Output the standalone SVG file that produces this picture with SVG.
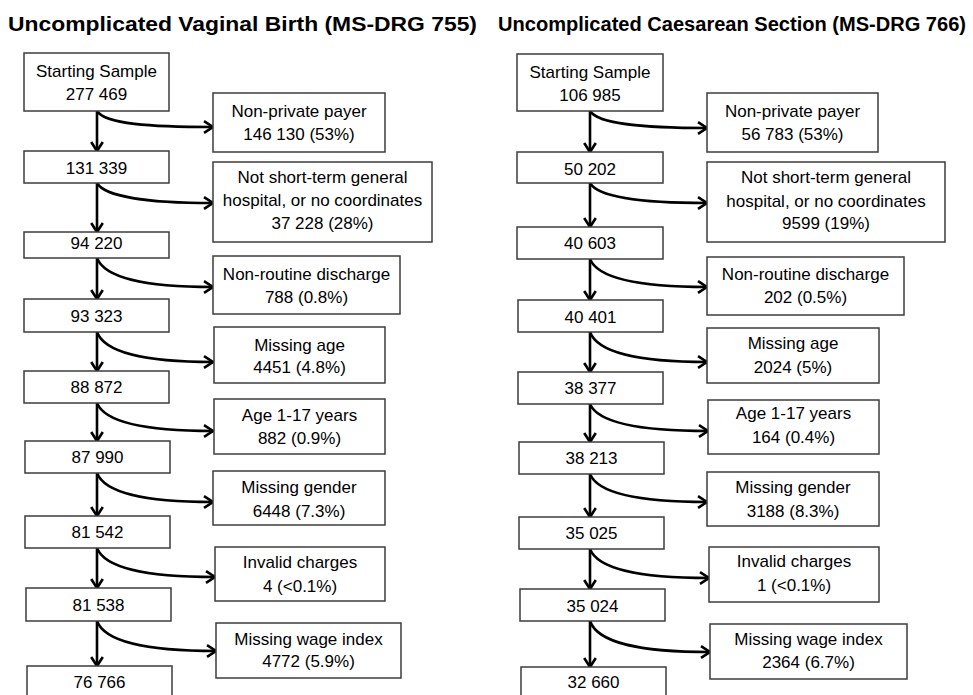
<svg xmlns="http://www.w3.org/2000/svg" width="973" height="695" viewBox="0 0 973 695">
<defs>
<style>
.bx{fill:#fff;stroke:#3c3c3c;stroke-width:1.5}
.t{font-family:"Liberation Sans",Arial,sans-serif;font-size:17px;fill:#000;text-anchor:middle}
.h{font-family:"Liberation Sans",Arial,sans-serif;font-size:20px;font-weight:bold;fill:#000}
.c{fill:none;stroke:#000;stroke-width:2.6}
</style>
<marker id="ah" markerWidth="14" markerHeight="14" refX="11" refY="7" orient="auto" markerUnits="userSpaceOnUse">
<path d="M2,1.2 L11,7 L2,12.8" fill="none" stroke="#000" stroke-width="2.6"/>
</marker>
</defs>
<rect width="973" height="695" fill="#fff"/>
<text class="h" x="8" y="31" textLength="469" lengthAdjust="spacingAndGlyphs">Uncomplicated Vaginal Birth (MS-DRG 755)</text>
<text class="h" x="498" y="31" textLength="468" lengthAdjust="spacingAndGlyphs">Uncomplicated Caesarean Section (MS-DRG 766)</text>

<g id="connectors">
<path class="c" marker-end="url(#ah)" d="M97,111 V151"/>
<path class="c" marker-end="url(#ah)" d="M97,183 V232"/>
<path class="c" marker-end="url(#ah)" d="M97,258 V299"/>
<path class="c" marker-end="url(#ah)" d="M97,332 V371"/>
<path class="c" marker-end="url(#ah)" d="M97,403 V441"/>
<path class="c" marker-end="url(#ah)" d="M97,473 V516"/>
<path class="c" marker-end="url(#ah)" d="M97,548 V588"/>
<path class="c" marker-end="url(#ah)" d="M97,621 V666"/>
<path class="c" marker-end="url(#ah)" d="M97,111 C105,124 150,127 213,127"/>
<path class="c" marker-end="url(#ah)" d="M97,183 C105,197 150,203 213,203"/>
<path class="c" marker-end="url(#ah)" d="M97,258 C105,279 150,287 213,287"/>
<path class="c" marker-end="url(#ah)" d="M97,332 C105,354 150,362 213,362"/>
<path class="c" marker-end="url(#ah)" d="M97,403 C105,423 150,431 213,431"/>
<path class="c" marker-end="url(#ah)" d="M97,473 C105,494 150,502 213,502"/>
<path class="c" marker-end="url(#ah)" d="M97,548 C105,569 150,577 215,577"/>
<path class="c" marker-end="url(#ah)" d="M97,621 C105,643 150,651 216,651"/>

<path class="c" marker-end="url(#ah)" d="M590,111 V152"/>
<path class="c" marker-end="url(#ah)" d="M590,183 V227"/>
<path class="c" marker-end="url(#ah)" d="M590,259 V300"/>
<path class="c" marker-end="url(#ah)" d="M590,332 V372"/>
<path class="c" marker-end="url(#ah)" d="M590,404 V442"/>
<path class="c" marker-end="url(#ah)" d="M590,474 V517"/>
<path class="c" marker-end="url(#ah)" d="M590,549 V589"/>
<path class="c" marker-end="url(#ah)" d="M590,621 V667"/>
<path class="c" marker-end="url(#ah)" d="M590,111 C598,124 643,128 707,128"/>
<path class="c" marker-end="url(#ah)" d="M590,183 C598,197 643,203 707,203"/>
<path class="c" marker-end="url(#ah)" d="M590,259 C598,279 643,287 707,287"/>
<path class="c" marker-end="url(#ah)" d="M590,332 C598,354 643,362 707,362"/>
<path class="c" marker-end="url(#ah)" d="M590,404 C598,423 643,431 708,431"/>
<path class="c" marker-end="url(#ah)" d="M590,474 C598,494 643,502 707,502"/>
<path class="c" marker-end="url(#ah)" d="M590,549 C598,570 643,578 709,578"/>
<path class="c" marker-end="url(#ah)" d="M590,621 C598,644 643,652 710,652"/>
</g>

<g id="a0"><rect class="bx" x="24" y="53" width="145" height="58"/><text class="t" x="96.5" y="77">Starting Sample</text><text class="t" x="96.5" y="100">277 469</text></g>
<g id="a1"><rect class="bx" x="24" y="151" width="145" height="32"/><text class="t" x="96.5" y="174">131 339</text></g>
<g id="a2"><rect class="bx" x="24" y="232" width="145" height="26"/><text class="t" x="96.5" y="249">94 220</text></g>
<g id="a3"><rect class="bx" x="24" y="299" width="145" height="33"/><text class="t" x="96.5" y="322">93 323</text></g>
<g id="a4"><rect class="bx" x="24" y="371" width="145" height="32"/><text class="t" x="96.5" y="393">88 872</text></g>
<g id="a5"><rect class="bx" x="25" y="441" width="145" height="32"/><text class="t" x="97.5" y="463">87 990</text></g>
<g id="a6"><rect class="bx" x="25" y="516" width="145" height="32"/><text class="t" x="97.5" y="538">81 542</text></g>
<g id="a7"><rect class="bx" x="26" y="588" width="145" height="33"/><text class="t" x="98.5" y="611">81 538</text></g>
<g id="a8"><rect class="bx" x="27" y="666" width="145" height="40"/><text class="t" x="99.5" y="688">76 766</text></g>

<g id="s0"><rect class="bx" x="213" y="93" width="172" height="59"/><text class="t" x="299" y="117">Non-private payer</text><text class="t" x="299" y="140">146 130 (53%)</text></g>
<g id="s1"><rect class="bx" x="213" y="162" width="219" height="80"/><text class="t" x="322.5" y="183">Not short-term general</text><text class="t" x="322.5" y="206">hospital, or no coordinates</text><text class="t" x="322.5" y="229">37 228 (28%)</text></g>
<g id="s2"><rect class="bx" x="213" y="256" width="187" height="58"/><text class="t" x="306.5" y="280">Non-routine discharge</text><text class="t" x="306.5" y="303">788 (0.8%)</text></g>
<g id="s3"><rect class="bx" x="214" y="327" width="171" height="56"/><text class="t" x="299.5" y="351">Missing age</text><text class="t" x="299.5" y="373">4451 (4.8%)</text></g>
<g id="s4"><rect class="bx" x="214" y="399" width="171" height="55"/><text class="t" x="299.5" y="421">Age 1-17 years</text><text class="t" x="299.5" y="444">882 (0.9%)</text></g>
<g id="s5"><rect class="bx" x="213" y="471" width="172" height="54"/><text class="t" x="299" y="493">Missing gender</text><text class="t" x="299" y="517">6448 (7.3%)</text></g>
<g id="s6"><rect class="bx" x="215" y="547" width="170" height="54"/><text class="t" x="300" y="568">Invalid charges</text><text class="t" x="300" y="592">4 (&lt;0.1%)</text></g>
<g id="s7"><rect class="bx" x="216" y="623" width="185" height="55"/><text class="t" x="308.5" y="645">Missing wage index</text><text class="t" x="308.5" y="667">4772 (5.9%)</text></g>

<g id="b0"><rect class="bx" x="517" y="54" width="146" height="57"/><text class="t" x="590" y="78">Starting Sample</text><text class="t" x="590" y="101">106 985</text></g>
<g id="b1"><rect class="bx" x="517" y="152" width="146" height="31"/><text class="t" x="590" y="175">50 202</text></g>
<g id="b2"><rect class="bx" x="517" y="227" width="146" height="32"/><text class="t" x="590" y="249">40 603</text></g>
<g id="b3"><rect class="bx" x="518" y="300" width="145" height="32"/><text class="t" x="590.5" y="323">40 401</text></g>
<g id="b4"><rect class="bx" x="518" y="372" width="145" height="32"/><text class="t" x="590.5" y="394">38 377</text></g>
<g id="b5"><rect class="bx" x="519" y="442" width="145" height="32"/><text class="t" x="591.5" y="464">38 213</text></g>
<g id="b6"><rect class="bx" x="519" y="517" width="145" height="32"/><text class="t" x="591.5" y="539">35 025</text></g>
<g id="b7"><rect class="bx" x="520" y="589" width="145" height="32"/><text class="t" x="592.5" y="612">35 024</text></g>
<g id="b8"><rect class="bx" x="521" y="667" width="145" height="40"/><text class="t" x="593.5" y="688">32 660</text></g>

<g id="r0"><rect class="bx" x="707" y="93" width="171" height="59"/><text class="t" x="792.5" y="117">Non-private payer</text><text class="t" x="792.5" y="140">56 783 (53%)</text></g>
<g id="r1"><rect class="bx" x="707" y="162" width="238" height="80"/><text class="t" x="826" y="183">Not short-term general</text><text class="t" x="826" y="207">hospital, or no coordinates</text><text class="t" x="826" y="229">9599 (19%)</text></g>
<g id="r2"><rect class="bx" x="707" y="257" width="197" height="58"/><text class="t" x="805.5" y="280">Non-routine discharge</text><text class="t" x="805.5" y="303">202 (0.5%)</text></g>
<g id="r3"><rect class="bx" x="707" y="328" width="172" height="55"/><text class="t" x="793" y="349">Missing age</text><text class="t" x="793" y="373">2024 (5%)</text></g>
<g id="r4"><rect class="bx" x="708" y="400" width="171" height="54"/><text class="t" x="793.5" y="419">Age 1-17 years</text><text class="t" x="793.5" y="443">164 (0.4%)</text></g>
<g id="r5"><rect class="bx" x="707" y="472" width="172" height="54"/><text class="t" x="793" y="493">Missing gender</text><text class="t" x="793" y="517">3188 (8.3%)</text></g>
<g id="r6"><rect class="bx" x="709" y="547" width="170" height="55"/><text class="t" x="794" y="567">Invalid charges</text><text class="t" x="794" y="591">1 (&lt;0.1%)</text></g>
<g id="r7"><rect class="bx" x="710" y="624" width="197" height="55"/><text class="t" x="808.5" y="645">Missing wage index</text><text class="t" x="808.5" y="668">2364 (6.7%)</text></g>
</svg>
